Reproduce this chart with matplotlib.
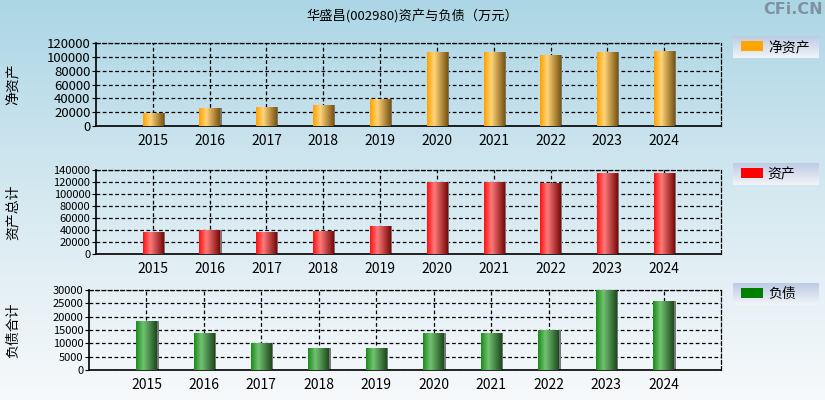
import numpy as np
import matplotlib
matplotlib.use("Agg")
import matplotlib.pyplot as plt
from matplotlib.colors import LinearSegmentedColormap
from matplotlib.patches import Patch

plt.rcParams['font.family'] = ['Liberation Sans Narrow', 'Noto Sans CJK SC', 'DejaVu Sans']

# data (万元)
years = [2015, 2016, 2017, 2018, 2019, 2020, 2021, 2022, 2023, 2024]
net_assets = [19100, 26300, 27700, 30600, 39200, 106600, 106600, 102300, 106600, 108000]
total_assets = [37200, 40600, 37200, 38900, 47200, 119400, 120600, 117800, 135600, 134400]
total_liab = [18500, 13700, 9950, 8300, 8300, 13700, 13700, 14900, 30000, 25700]

title = '华盛昌(002980)资产与负债（万元）'

panels = [
    dict(values=net_assets, ylabel='净资产', legend='净资产', ymax=120000, step=20000,
         colors=['#ffa200', '#ffd47a', '#7a5612'], solid='#ffa500',
         box=[96, 43, 721, 126], ysize=9.5),
    dict(values=total_assets, ylabel='资产总计', legend='资产', ymax=140000, step=20000,
         colors=['#ff1010', '#ff7a7a', '#7a0a0a'], solid='#ff0000',
         box=[96, 170, 721, 254], ysize=8),
    dict(values=total_liab, ylabel='负债合计', legend='负债', ymax=30000, step=5000,
         colors=['#1b8c1b', '#72c272', '#1e4a1e'], solid='#008000',
         box=[89, 290, 721, 370], ysize=8),
]

W, H = 825, 400
fig = plt.figure(figsize=(W / 100, H / 100), dpi=100)

# background gradient
bg = fig.add_axes([0, 0, 1, 1], zorder=-10)
grad = np.linspace(0, 1, 256).reshape(-1, 1)
bg_cmap = LinearSegmentedColormap.from_list('bg', ['#acd6e5', '#d6e9f1', '#f7f9fb'])
bg.imshow(grad, cmap=bg_cmap, aspect='auto', extent=[0, 1, 0, 1])
bg.set_axis_off()

fig.text(0.5, 1 - 17 / H, title, ha='center', va='center', fontsize=9.5,
         family=['Noto Sans CJK SC', 'DejaVu Sans'])
fig.text(0.997, 1 - 10 / H, 'CFi.CN', ha='right', va='center', fontsize=11.5,
         color='#7f929e', fontweight='bold', family=['Liberation Sans Narrow', 'DejaVu Sans'])

leg_cmap = LinearSegmentedColormap.from_list('leg', ['#bccbe4', '#f2f4f8'])

bar_w = 0.36
for p in panels:
    x0, y0, x1, y1 = p['box']
    ax = fig.add_axes([x0 / W, 1 - y1 / H, (x1 - x0) / W, (y1 - y0) / H])
    ax.patch.set_alpha(0)
    cmap = LinearSegmentedColormap.from_list('bar', [(0, p['colors'][0]), (0.35, p['colors'][1]),
                                                      (1, p['colors'][2])])
    # shadow
    ax.bar([y + 0.03 for y in years], p['values'], width=bar_w, color='#777777', zorder=2)
    bars = ax.bar(years, p['values'], width=bar_w, color='none', zorder=3)
    g = np.linspace(0, 1, 64).reshape(1, -1)
    for rect in bars:
        bx, bw, bh = rect.get_x(), rect.get_width(), rect.get_height()
        im = ax.imshow(g, cmap=cmap, aspect='auto', extent=[bx, bx + bw, 0, bh], zorder=3)
        im.set_clip_path(rect)
    ax.set_xlim(2014, 2025)
    ax.set_ylim(0, p['ymax'])
    ax.set_xticks(years)
    ax.set_yticks(np.arange(0, p['ymax'] + 1, p['step']))
    ax.tick_params(axis='x', length=0, labelsize=10, pad=6)
    ax.tick_params(axis='y', length=3, labelsize=p['ysize'], pad=1)
    ax.grid(True, color='black', linestyle='--', linewidth=0.9, dashes=(3, 2))
    ax.set_axisbelow(True)
    for s in ['top', 'right']:
        ax.spines[s].set_linestyle((0, (3, 2)))
        ax.spines[s].set_linewidth(0.9)
    ax.spines['left'].set_linewidth(1.2)
    ax.spines['bottom'].set_linewidth(1.2)
    fig.text(13 / W, 1 - ((y0 + y1) / 2) / H, p['ylabel'], rotation=90, ha='center', va='center',
             fontsize=10, family=['Noto Sans CJK SC', 'DejaVu Sans'])

    # legend box with vertical gradient
    lx0, ly0, lx1, ly1 = 733, y0 - 7, 819, y0 + 15
    lax = fig.add_axes([lx0 / W, 1 - ly1 / H, (lx1 - lx0) / W, (ly1 - ly0) / H])
    lax.imshow(np.linspace(0, 1, 64).reshape(-1, 1), cmap=leg_cmap, aspect='auto',
               extent=[0, 1, 0, 1])
    lax.set_axis_off()
    lax.legend(handles=[Patch(facecolor=p['solid'], edgecolor='none')], labels=[p['legend']],
               loc='center left', bbox_to_anchor=(0.09, 0.5), borderaxespad=0, frameon=False,
               borderpad=0, handlelength=1.6, handleheight=0.75, handletextpad=0.35,
               prop={'family': ['Noto Sans CJK SC', 'DejaVu Sans'], 'size': 10})

fig.savefig('out.png', dpi=100)
